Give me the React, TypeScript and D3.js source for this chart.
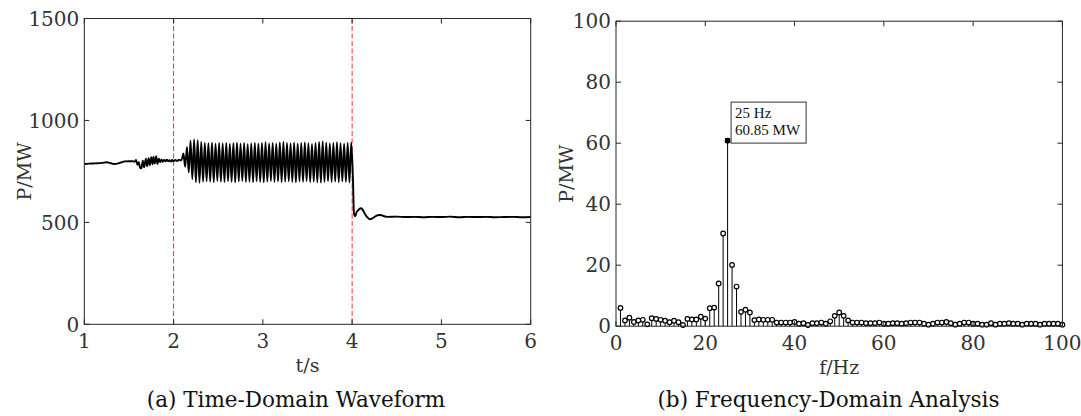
import React from "react";
import * as d3 from "d3";

// ---- (a) time-domain waveform (t in s, P in MW) ----
const preTime = [
  1.0, 1.05, 1.1, 1.15, 1.2, 1.25, 1.3, 1.34, 1.38, 1.42, 1.45, 1.5, 1.545, 1.565,
  1.58, 1.595, 1.61, 1.625, 1.64, 1.655, 1.67, 1.69, 1.705, 1.72, 1.735, 1.75, 1.765,
  1.775, 1.79, 1.805, 1.82, 1.835, 1.85, 1.865, 1.88, 1.895, 1.91, 1.925, 1.94, 1.955,
  1.97, 1.985, 2.0, 2.02, 2.04, 2.06, 2.08, 2.095,
];
const prePower = [
  786, 788, 789, 790, 792, 795, 790, 786, 789, 795, 799, 800, 800, 797,
  806, 782, 795, 768, 765, 803, 770, 812, 775, 815, 780, 820, 785,
  822, 788, 825, 786, 812, 795, 809, 797, 806, 799, 808, 800, 805,
  798, 806, 800, 806, 801, 808, 803, 812,
];

// sustained 25 Hz oscillation between the two faults: one peak and one trough per cycle
const oscStart = 2.11;
const oscHalfPeriod = 0.02;
const oscPeaks = [
  838, 870, 900, 907, 903, 895, 890, 888, 891, 886, 889, 887, 890, 885, 888, 891,
  886, 889, 884, 887, 890, 886, 889, 893, 887, 890, 886, 892, 895, 889, 887, 891,
  886, 889, 892, 888, 885, 890, 894, 897, 891, 887, 889, 893, 888, 886, 890, 892,
];
const oscTroughs = [
  773, 745, 712, 697, 694, 699, 702, 700, 697, 703, 700, 698, 702, 699, 696, 701,
  703, 698, 700, 697, 702, 699, 696, 700, 703, 698, 701, 697, 700, 702, 698, 696,
  701, 699, 703, 698, 700, 697, 695, 699, 702, 698, 700, 697, 701, 699, 696, 700,
];

const postTime = [
  4.02, 4.035, 4.05, 4.07, 4.09, 4.105, 4.12, 4.14, 4.17, 4.2, 4.235, 4.27, 4.3, 4.33,
  4.36, 4.4, 4.5, 4.6, 4.7, 4.8, 4.9, 5.0, 5.1, 5.2, 5.3, 5.4, 5.5, 5.6, 5.7, 5.8, 5.9, 6.0,
];
const postPower = [
  545, 530, 550, 560, 568, 569, 560, 544, 525, 515, 522, 532, 536, 535,
  530, 527, 528, 526, 527, 525, 527, 526, 528, 525, 527, 526, 527, 525, 526, 527, 525, 526,
];

const faultTimes = [2, 4];
const timeTicks = [1, 2, 3, 4, 5, 6];
const powerTicks = [0, 500, 1000, 1500];

// ---- (b) spectrum, 1 Hz bins ----
const fftFreq = d3.range(1, 101);
const fftAmp = [
  6.0, 1.9, 2.8, 1.4, 1.9, 2.1, 0.6, 2.6, 2.4, 2.1, 1.8, 1.3, 1.8, 1.3, 0.4, 2.4, 2.2, 2.2, 3.1, 2.5,
  5.9, 6.1, 14.0, 30.4, 60.85, 20.1, 13.0, 4.7, 5.4, 4.5, 2.0, 2.2, 2.1, 2.1, 2.1, 1.2, 1.2, 1.2, 1.2, 1.4,
  0.8, 1.0, 0.4, 1.0, 1.0, 1.2, 0.8, 1.6, 3.4, 4.5, 3.4, 1.9, 1.2, 1.2, 1.2, 1.0, 1.0, 1.0, 1.2, 0.8,
  0.8, 1.0, 1.0, 0.8, 1.0, 1.2, 1.2, 1.2, 0.8, 0.5, 0.8, 1.2, 1.2, 1.4, 1.0, 0.5, 0.8, 1.2, 1.2, 0.8,
  0.8, 0.5, 0.5, 1.0, 0.5, 0.8, 0.8, 1.0, 0.8, 0.8, 0.5, 0.8, 0.8, 0.8, 0.5, 0.8, 0.8, 0.8, 0.8, 0.5,
];
const peakFreq = 25;
const peakAmp = 60.85;
const freqTicks = [0, 20, 40, 60, 80, 100];
const ampTicks = [0, 20, 40, 60, 80, 100];

const W = 1081;
const H = 416;
const ink = "#262626";
const serif = "'DejaVu Serif', serif";

type Pt = { t: number; v: number };

const timeSeries: Pt[] = [];
preTime.forEach((t, i) => timeSeries.push({ t, v: prePower[i] }));
oscPeaks.forEach((p, k) => {
  timeSeries.push({ t: oscStart + 2 * k * oscHalfPeriod, v: p });
  timeSeries.push({ t: oscStart + (2 * k + 1) * oscHalfPeriod, v: oscTroughs[k] });
});
postTime.forEach((t, i) => timeSeries.push({ t, v: postPower[i] }));

const Frame = ({ x, y, xTicks, yTicks, xLabel, title, yLabelX, titleX, xTickY, xLabelY }) => {
  const [x0, x1] = x.range();
  const [y1, y0] = y.range();
  const tl = 5;
  return (
    <g>
      <rect x={x0} y={y0} width={x1 - x0} height={y1 - y0} fill="none" stroke={ink} strokeWidth={1} />
      {xTicks.map((t) => (
        <g key={"x" + t}>
          <line x1={x(t)} x2={x(t)} y1={y1} y2={y1 - tl} stroke={ink} />
          <line x1={x(t)} x2={x(t)} y1={y0} y2={y0 + tl} stroke={ink} />
          <text x={x(t)} y={xTickY} textAnchor="middle" fontSize={20} fill="#333" fontFamily={serif}>
            {t}
          </text>
        </g>
      ))}
      {yTicks.map((t) => (
        <g key={"y" + t}>
          <line x1={x0} x2={x0 + tl} y1={y(t)} y2={y(t)} stroke={ink} />
          <line x1={x1} x2={x1 - tl} y1={y(t)} y2={y(t)} stroke={ink} />
          <text x={x0 - 5} y={y(t)} dy="0.36em" textAnchor="end" fontSize={20} fill="#333" fontFamily={serif}>
            {t}
          </text>
        </g>
      ))}
      <text x={(x0 + x1) / 2} y={xLabelY} textAnchor="middle" fontSize={19} fill="#333" fontFamily={serif}>
        {xLabel}
      </text>
      <text
        transform={`translate(${yLabelX},${(y0 + y1) / 2}) rotate(-90)`}
        textAnchor="middle"
        fontSize={19}
        fill="#333"
        fontFamily={serif}
      >
        P/MW
      </text>
      <text x={titleX} y={407} textAnchor="middle" fontSize={21.5} fill="#111" fontFamily={serif}>
        {title}
      </text>
    </g>
  );
};

export default function App() {
  const xT = d3.scaleLinear().domain([1, 6]).range([84.3, 530.7]);
  const yT = d3.scaleLinear().domain([0, 1500]).range([324.3, 18.5]);

  const xF = d3.scaleLinear().domain([0, 100]).range([616, 1062.4]);
  const yF = d3.scaleLinear().domain([0, 100]).range([326.2, 21.2]);

  const line = d3
    .line<Pt>()
    .x((d) => xT(d.t))
    .y((d) => yT(d.v))
    .curve(d3.curveMonotoneX);

  const boxX = xF(peakFreq) + 3.5;
  const boxY = yF(peakAmp) - 38.5;

  return (
    <svg width={W} height={H} style={{ position: "absolute", left: 0, top: 0, background: "#fff" }}>
      {/* (a) */}
      {faultTimes.map((t) => (
        <line
          key={t}
          x1={xT(t)}
          x2={xT(t)}
          y1={yT.range()[1]}
          y2={yT.range()[0]}
          stroke="#ff3030"
          strokeWidth={1}
          strokeDasharray="5 2.5"
        />
      ))}
      <path d={line(timeSeries) || ""} fill="none" stroke="#000" strokeWidth={1.9} strokeLinejoin="round" />
      <Frame
        x={xT}
        y={yT}
        xTicks={timeTicks}
        yTicks={powerTicks}
        xLabel="t/s"
        title="(a) Time-Domain Waveform"
        yLabelX={31}
        titleX={296}
        xTickY={348}
        xLabelY={372}
      />

      {/* (b) */}
      {fftFreq.map((f, i) => (
        <line key={"s" + f} x1={xF(f)} x2={xF(f)} y1={yF(0)} y2={yF(fftAmp[i])} stroke="#000" strokeWidth={1} />
      ))}
      {fftFreq.map((f, i) => (
        <circle key={"c" + f} cx={xF(f)} cy={yF(fftAmp[i])} r={2.3} fill="#fff" stroke="#000" strokeWidth={1.2} />
      ))}
      <rect x={xF(peakFreq) - 2.5} y={yF(peakAmp) - 2.5} width={5} height={5} fill="#000" />
      <rect x={boxX} y={boxY} width={75} height={41} fill="#fff" stroke="#333" strokeWidth={1} />
      <text x={boxX + 4} y={boxY + 16} fontSize={15} fill="#111" fontFamily="'Liberation Serif', serif">
        {peakFreq} Hz
      </text>
      <text x={boxX + 4} y={boxY + 32.5} fontSize={15} fill="#111" fontFamily="'Liberation Serif', serif">
        {peakAmp} MW
      </text>
      <Frame
        x={xF}
        y={yF}
        xTicks={freqTicks}
        yTicks={ampTicks}
        xLabel="f/Hz"
        title="(b) Frequency-Domain Analysis"
        yLabelX={572.5}
        titleX={828.5}
        xTickY={350}
        xLabelY={374}
      />
    </svg>
  );
}
